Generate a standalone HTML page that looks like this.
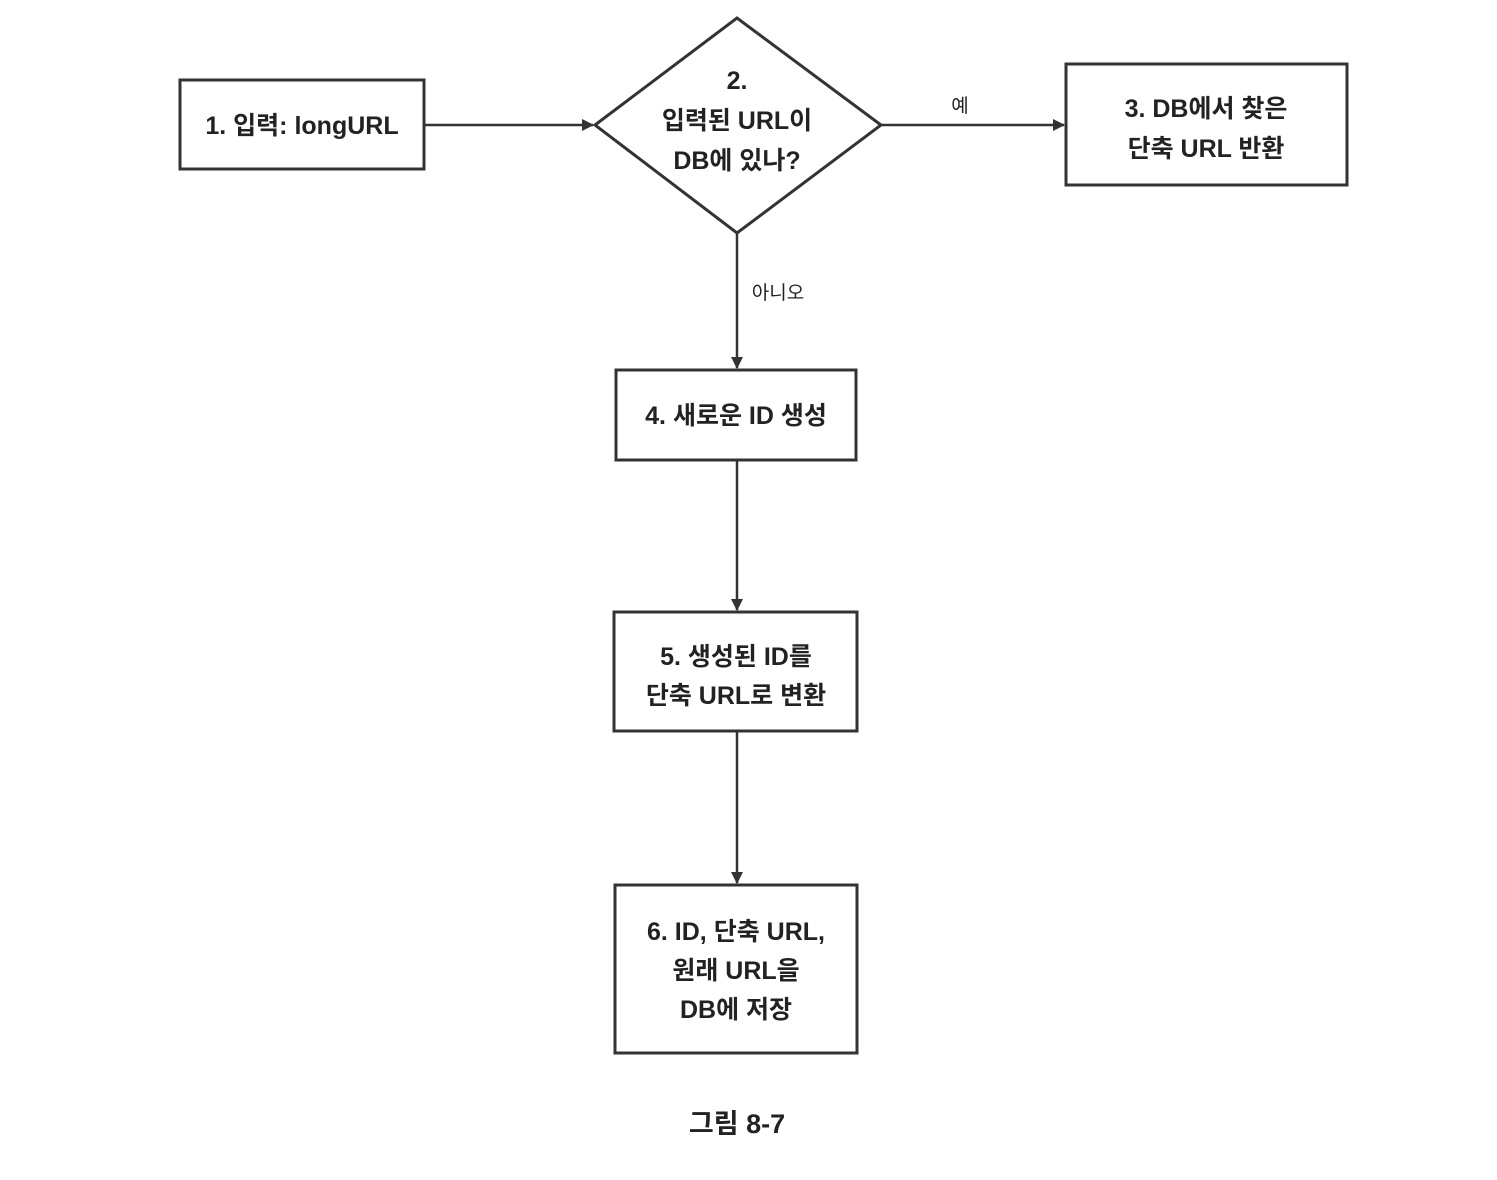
<!DOCTYPE html>
<html><head><meta charset="utf-8">
<style>
html,body{margin:0;padding:0;background:#fff;}
svg{display:block;}
text{font-family:"Liberation Sans","Noto Sans CJK KR","NanumGothic",sans-serif;fill:#222;text-anchor:middle;}
</style></head>
<body>
<svg width="1497" height="1180" viewBox="0 0 1497 1180" xmlns="http://www.w3.org/2000/svg">
<defs>
<marker id="a" markerWidth="12" markerHeight="12" refX="11" refY="6" orient="auto" markerUnits="userSpaceOnUse">
<path d="M0,0 L12,6 L0,12 Z" fill="#333"/>
</marker>
</defs>
<g stroke="#333" stroke-width="3" fill="#fff">
<rect x="180" y="80" width="244" height="89"/>
<polygon points="595,125 737,18 881,125 737,233"/>
<rect x="1066" y="64" width="281" height="121"/>
<rect x="616" y="370" width="240" height="90"/>
<rect x="614" y="612" width="243" height="119"/>
<rect x="615" y="885" width="242" height="168"/>
</g>
<g stroke="#333" stroke-width="2.5" fill="none">
<line x1="424" y1="125" x2="593" y2="125" marker-end="url(#a)"/>
<line x1="881" y1="125" x2="1064" y2="125" marker-end="url(#a)"/>
<line x1="737" y1="233" x2="737" y2="368" marker-end="url(#a)"/>
<line x1="737" y1="460" x2="737" y2="610" marker-end="url(#a)"/>
<line x1="737" y1="731" x2="737" y2="883" marker-end="url(#a)"/>
</g>
<g font-size="25" font-weight="bold">
<text x="302" y="134">1. 입력: longURL</text>
<text x="737" y="89">2.</text>
<text x="737" y="129">입력된 URL이</text>
<text x="737" y="169">DB에 있나?</text>
<text x="1206" y="117">3. DB에서 찾은</text>
<text x="1206" y="157">단축 URL 반환</text>
<text x="736" y="424">4. 새로운 ID 생성</text>
<text x="736" y="665">5. 생성된 ID를</text>
<text x="736" y="704">단축 URL로 변환</text>
<text x="736" y="940">6. ID, 단축 URL,</text>
<text x="736" y="979">원래 URL을</text>
<text x="736" y="1018">DB에 저장</text>
<text x="737" y="1133" font-size="27">그림 8-7</text>
</g>
<g font-size="19">
<text x="960" y="112">예</text>
<text x="778" y="299">아니오</text>
</g>
</svg>
</body></html>
